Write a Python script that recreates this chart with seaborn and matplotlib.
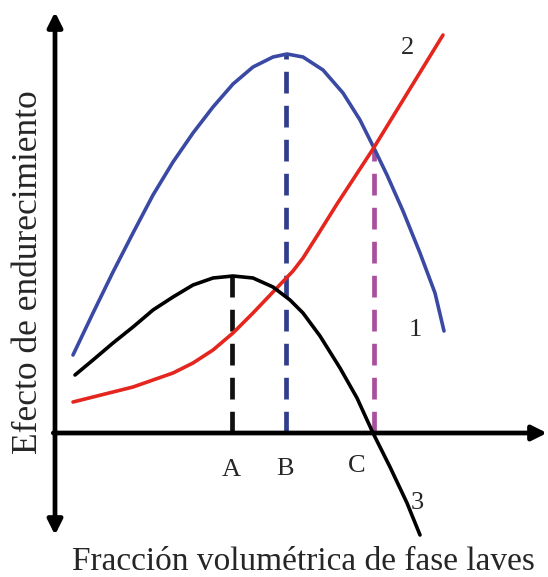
import matplotlib
matplotlib.use("Agg")
import matplotlib.pyplot as plt
import seaborn as sns

# curve 1 (blue), curve 2 (red), curve 3 (black) - arbitrary units
x1 = [18, 38, 58, 78, 98, 118, 138, 158, 178, 198, 218, 232, 248, 268, 288, 305,
      318, 332, 348, 365, 380, 389]
y1 = [78, 120, 161, 200, 238, 271, 300, 326, 349, 366, 376, 379, 376, 363, 340, 313,
      287, 258, 222, 180, 140, 102]

x2 = [18, 38, 58, 78, 98, 118, 138, 158, 178, 198, 218, 238, 248, 262, 282, 318, 353, 388]
y2 = [31, 36, 41, 46, 53, 60, 70, 83, 100, 120, 141, 162, 175, 197, 229, 284, 341, 398]

x3 = [20, 38, 58, 78, 98, 118, 138, 158, 178, 198, 218, 235, 248, 265, 285, 302,
      318, 335, 352, 365]
y3 = [58, 73, 90, 106, 123, 136, 148, 155, 157, 155, 146, 133, 120, 97, 65, 35,
      0, -34, -70, -102]

# critical fractions A, B, C and the height each dashed guide reaches
crit_labels = ["A", "B", "C"]
crit_x = [177, 231, 319]
crit_top = [157, 379, 283]

curve_labels = ["1", "2", "3"]

sns.set_style("white")
plt.rcParams["font.family"] = ["Liberation Serif", "DejaVu Serif"]

fig = plt.figure(figsize=(5.48, 5.77), dpi=100)
ax = fig.add_axes([0, 0, 1, 1])
ax.set_xlim(-55, 493)
ax.set_ylim(-144, 433)
ax.axis("off")

blue = "#3a49a3"
red = "#e5261f"
dash_cols = ["#111111", "#323e8c", "#a8509d"]

# dashed guides
for xc, top, col in zip(crit_x, crit_top, dash_cols):
    sns.lineplot(x=[xc, xc], y=[0, top], ax=ax, color=col, lw=3.4,
                 estimator=None, sort=False, zorder=2)
    ax.lines[-1].set_dashes((4.6, 2.6))
    ax.lines[-1].set_dash_capstyle("butt")

for xs, ys, col, z in [(x1, y1, blue, 3), (x2, y2, red, 3), (x3, y3, "black", 4)]:
    sns.lineplot(x=xs, y=ys, ax=ax, color=col, lw=2.6, estimator=None, sort=False,
                 zorder=z)
    ax.lines[-1].set_solid_joinstyle("round")

# axes with arrows
arrow = dict(arrowstyle="-|>", lw=3.4, color="black", mutation_scale=22,
             shrinkA=0, shrinkB=0)
ax.annotate("", xy=(0, 421), xytext=(0, 0), arrowprops=arrow)
ax.annotate("", xy=(0, -102), xytext=(0, 0), arrowprops=arrow)
ax.annotate("", xy=(492, 0), xytext=(-1.7, 0), arrowprops=arrow)

label_pos = {"A": (176, -37), "B": (230, -36), "C": (302, -33)}
for lab in crit_labels:
    ax.text(*label_pos[lab], lab, ha="center", va="center", fontsize=19)

curve_pos = [(360, 103), (353, 385), (362, -70)]
for lab, (tx, ty) in zip(curve_labels, curve_pos):
    ax.text(tx, ty, lab, ha="center", va="center", fontsize=19)

ax.text(248, -129, "Fracción volumétrica de fase laves", ha="center", va="center",
        fontsize=24)
ax.text(-26, 161, "Efecto de endurecimiento", ha="center", va="center",
        rotation=90, fontsize=25.5)

fig.savefig("out.png", dpi=100, facecolor="white")
